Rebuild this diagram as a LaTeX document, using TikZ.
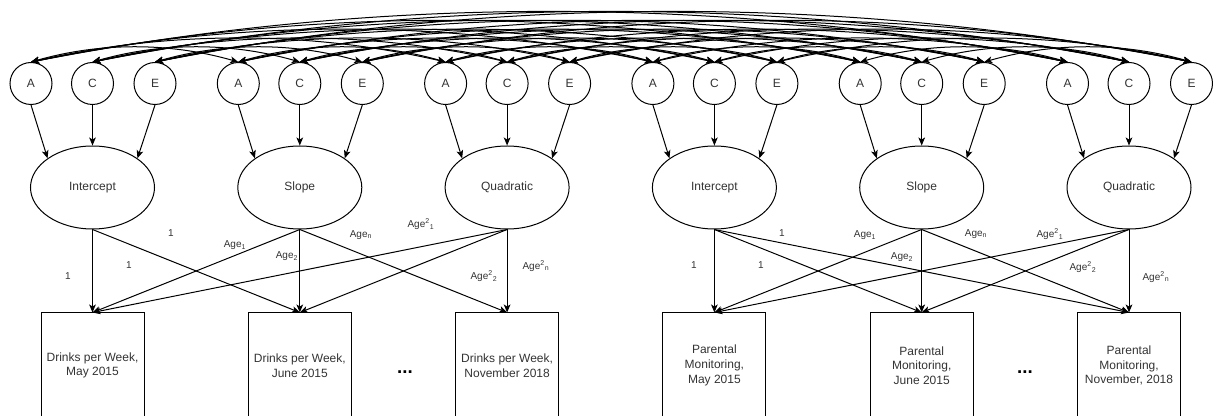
\documentclass[tikz,border=0pt]{standalone}
\usepackage{fontspec}
\setmainfont{Liberation Sans}
\usetikzlibrary{arrows.meta,shapes.geometric}
\begin{document}
\begin{tikzpicture}[x=0.75pt,y=-0.75pt,
  line width=0.75pt,
  tip/.style={-{Stealth[length=6pt,width=5pt,inset=1.5pt]}},
  dtip/.style={{Stealth[length=6pt,width=5pt,inset=1.5pt]}-{Stealth[length=6pt,width=5pt,inset=1.5pt]}},
  ace/.style={draw,circle,minimum size=31.5pt,inner sep=0pt,text=black!80,font=\fontsize{9}{11}\selectfont},
  latent/.style={draw,ellipse,minimum width=93pt,minimum height=62.25pt,inner sep=0pt,text=black!80,font=\fontsize{9}{11}\selectfont},
  obs/.style={draw,rectangle,minimum width=77.25pt,minimum height=78.75pt,inner sep=0pt,align=center,text=black!80,font=\fontsize{9}{11}\selectfont},
  lab/.style={font=\fontsize{7.5}{9}\selectfont,inner sep=0pt,text=black!80},
  dots/.style={font=\fontsize{14}{16}\selectfont\bfseries,inner sep=0pt}
]
\useasboundingbox (0,0) rectangle (1213,416);
\clip (0,0) rectangle (1213,416);

% latent factors
\node[latent] (L1) at (92.5,187.5) {Intercept};
\node[latent] (L2) at (299.8,187.5) {Slope};
\node[latent] (L3) at (507.1,187.5) {Quadratic};
\node[latent] (L4) at (714.4,187.5) {Intercept};
\node[latent] (L5) at (921.7,187.5) {Slope};
\node[latent] (L6) at (1129.0,187.5) {Quadratic};

% ACE circles
\foreach \k/\x in {1/92.5,2/299.8,3/507.1,4/714.4,5/921.7,6/1129.0}{
  \node[ace] (A\k) at (\x-61.5,83.5) {A};
  \node[ace] (C\k) at (\x,83.5) {C};
  \node[ace] (E\k) at (\x+62.5,83.5) {E};
  \draw[tip] (A\k.south) -- (L\k.147);
  \draw[tip] (C\k.south) -- (L\k.north);
  \draw[tip] (E\k.south) -- (L\k.33);
}

% observed boxes
\node[obs] (B1) at (92.5,365.5) {Drinks per Week,\\May 2015};
\node[obs] (B2) at (299.8,365.5) {Drinks per Week,\\June 2015};
\node[obs] (B3) at (507.1,365.5) {Drinks per Week,\\November 2018};
\node[obs] (B4) at (714.4,365.5) {Parental\\Monitoring,\\May 2015};
\node[obs] (B5) at (921.7,365.5) {Parental\\Monitoring,\\June 2015};
\node[obs] (B6) at (1129.0,365.5) {Parental\\Monitoring,\\November, 2018};

\node[dots] (d1) at (405,372) {...};
\node[dots] (d2) at (1025,372) {...};

% loadings, left panel
\draw[tip] (L1.south) -- (B1.north);
\draw[tip] (L1.south) -- (B2.north);
\draw[tip] (L2.south) -- (B1.north);
\draw[tip] (L2.south) -- (B2.north);
\draw[tip] (L2.south) -- (B3.north);
\draw[tip] (L3.south) -- (B1.north);
\draw[tip] (L3.south) -- (B2.north);
\draw[tip] (L3.south) -- (B3.north);
% loadings, right panel
\foreach \i in {4,5,6}{
  \foreach \j in {4,5,6}{
    \draw[tip] (L\i.south) -- (B\j.north);
  }
}

% loading labels, left
\node[lab] (t1) at (68,276) {1};
\node[lab] (t2) at (129,265) {1};
\node[lab] (t3) at (171,233) {1};
\node[lab] (t4) at (235,245) {Age\textsubscript{1}};
\node[lab] (t5) at (287,256) {Age\textsubscript{2}};
\node[lab] (t6) at (361,235) {Age\textsubscript{n}};
\node[lab] (t7) at (421,224) {Age\textsuperscript{2}\textsubscript{1}};
\node[lab] (t8) at (484,276) {Age\textsuperscript{2}\textsubscript{2}};
\node[lab] (t9) at (536,266) {Age\textsuperscript{2}\textsubscript{n}};
% loading labels, right
\node[lab] (u1) at (694,265) {1};
\node[lab] (u2) at (761,265) {1};
\node[lab] (u3) at (782,233) {1};
\node[lab] (u4) at (865,235) {Age\textsubscript{1}};
\node[lab] (u5) at (902,257) {Age\textsubscript{2}};
\node[lab] (u6) at (976,234) {Age\textsubscript{n}};
\node[lab] (u7) at (1050,234) {Age\textsuperscript{2}\textsubscript{1}};
\node[lab] (u8) at (1083,267) {Age\textsuperscript{2}\textsubscript{2}};
\node[lab] (u9) at (1156,277) {Age\textsuperscript{2}\textsubscript{n}};

% covariance arcs
\foreach \X in {A,C,E}{
  \foreach \i in {1,...,5}{
    \pgfmathtruncatemacro\s{\i+1}
    \foreach \j in {\s,...,6}{
      \pgfmathsetmacro\Lt{(\j-\i)*207.3/3}
      \pgfmathsetmacro\H{8+0.057*(\j-\i)*207.3}
      \draw[dtip] (\X\i.north) .. controls +(\Lt,-\H) and +(-\Lt,-\H) .. (\X\j.north);
    }
  }
}
\end{tikzpicture}
\end{document}
